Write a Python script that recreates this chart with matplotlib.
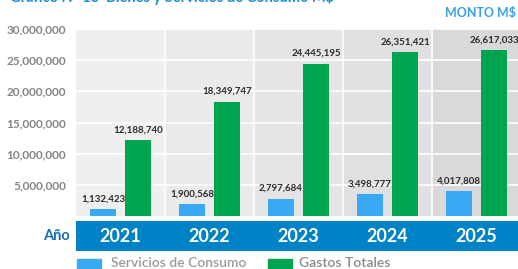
import numpy as np
import matplotlib.pyplot as plt

plt.rcParams['font.family'] = ['Lato', 'DejaVu Sans']

years = ['2021', '2022', '2023', '2024', '2025']
servicios = [1132423, 1900568, 2797684, 3498777, 4017808]
gastos = [12188740, 18349747, 24445195, 26351421, 26617033]
yticks = [5000000, 10000000, 15000000, 20000000, 25000000, 30000000]

col_bg = ['#efeff0', '#eaeaeb', '#e5e5e7', '#e0e0e2', '#d9d9db']
c_serv = '#38a9f2'
c_gast = '#00a44f'

W, H = 518, 269
fig = plt.figure(figsize=(W / 100, H / 100), dpi=100)
fig.patch.set_facecolor('white')

# main plot area
ax = fig.add_axes([76 / W, (H - 216) / H, 445 / W, 187 / H])
x = np.arange(len(years))
for i, c in enumerate(col_bg):
    ax.axvspan(i - 0.5, i + 0.5, color=c, lw=0, zorder=0)
for v in yticks:
    ax.axhline(v, color='white', lw=1.2, zorder=1)
for i in range(1, len(years)):
    ax.axvline(i - 0.5, color='white', lw=1.2, zorder=1)

off, bw = 0.197, 0.30
ax.bar(x - off, servicios, bw, color=c_serv, zorder=2)
ax.bar(x + off, gastos, bw, color=c_gast, zorder=2)
for i in range(len(years)):
    ax.text(x[i] - off, servicios[i] + 9e5, f'{servicios[i]:,}', ha='center', va='bottom',
            fontsize=7, fontweight='bold', color='#2b2b2b')
    ax.text(x[i] + off, gastos[i] + 9e5, f'{gastos[i]:,}', ha='center', va='bottom',
            fontsize=7, fontweight='bold', color='#2b2b2b')

ax.set_xlim(-0.5, 4.5)
ax.set_ylim(0, 30e6)
ax.set_yticks(yticks)
ax.set_yticklabels([f'{v:,}' for v in yticks], fontweight='bold', fontsize=8.5, color='#858585')
ax.tick_params(axis='y', length=0, pad=7)
ax.set_xticks([])
for s in ax.spines.values():
    s.set_visible(False)

# year band
axb = fig.add_axes([76 / W, (H - 251) / H, 445 / W, 30 / H])
axb.set_facecolor('#0083c6')
axb.set_xlim(-0.5, 4.5)
axb.set_ylim(0, 1)
for i, y in enumerate(years):
    axb.text(i, 0.47, y, ha='center', va='center', color='white', fontsize=13, fontweight='bold')
axb.set_xticks([])
axb.set_yticks([])
for s in axb.spines.values():
    s.set_visible(False)
fig.text(70 / W, 1 - 236 / H, 'Año', ha='right', va='center', color='#1b6fae',
         fontsize=10.5, fontweight='bold')

# legend
fig.patches.append(plt.Rectangle((77 / W, 1 - 269 / H), 24 / W, 10 / H, color=c_serv,
                                 transform=fig.transFigure, figure=fig))
fig.text(111 / W, 1 - 263 / H, 'Servicios de Consumo', ha='left', va='center',
         color='#9a9a9a', fontsize=10, fontweight='semibold')
fig.patches.append(plt.Rectangle((268 / W, 1 - 269 / H), 24 / W, 10 / H, color=c_gast,
                                 transform=fig.transFigure, figure=fig))
fig.text(299 / W, 1 - 263 / H, 'Gastos Totales', ha='left', va='center',
         color='#8a8a8a', fontsize=10, fontweight='semibold')

# title (cut off at top) and unit
fig.text(10 / W, 1 + 3 / H, 'Gráfico N° 13  Bienes y Servicios de Consumo M$', ha='left',
         va='center', color='#1a8fd0', fontsize=10.5, fontweight='bold')
fig.text(516 / W, 1 - 13 / H, 'MONTO M$', ha='right', va='center', color='#3aa0e6',
         fontsize=9, fontweight='bold')

fig.savefig('out.png', dpi=100)
